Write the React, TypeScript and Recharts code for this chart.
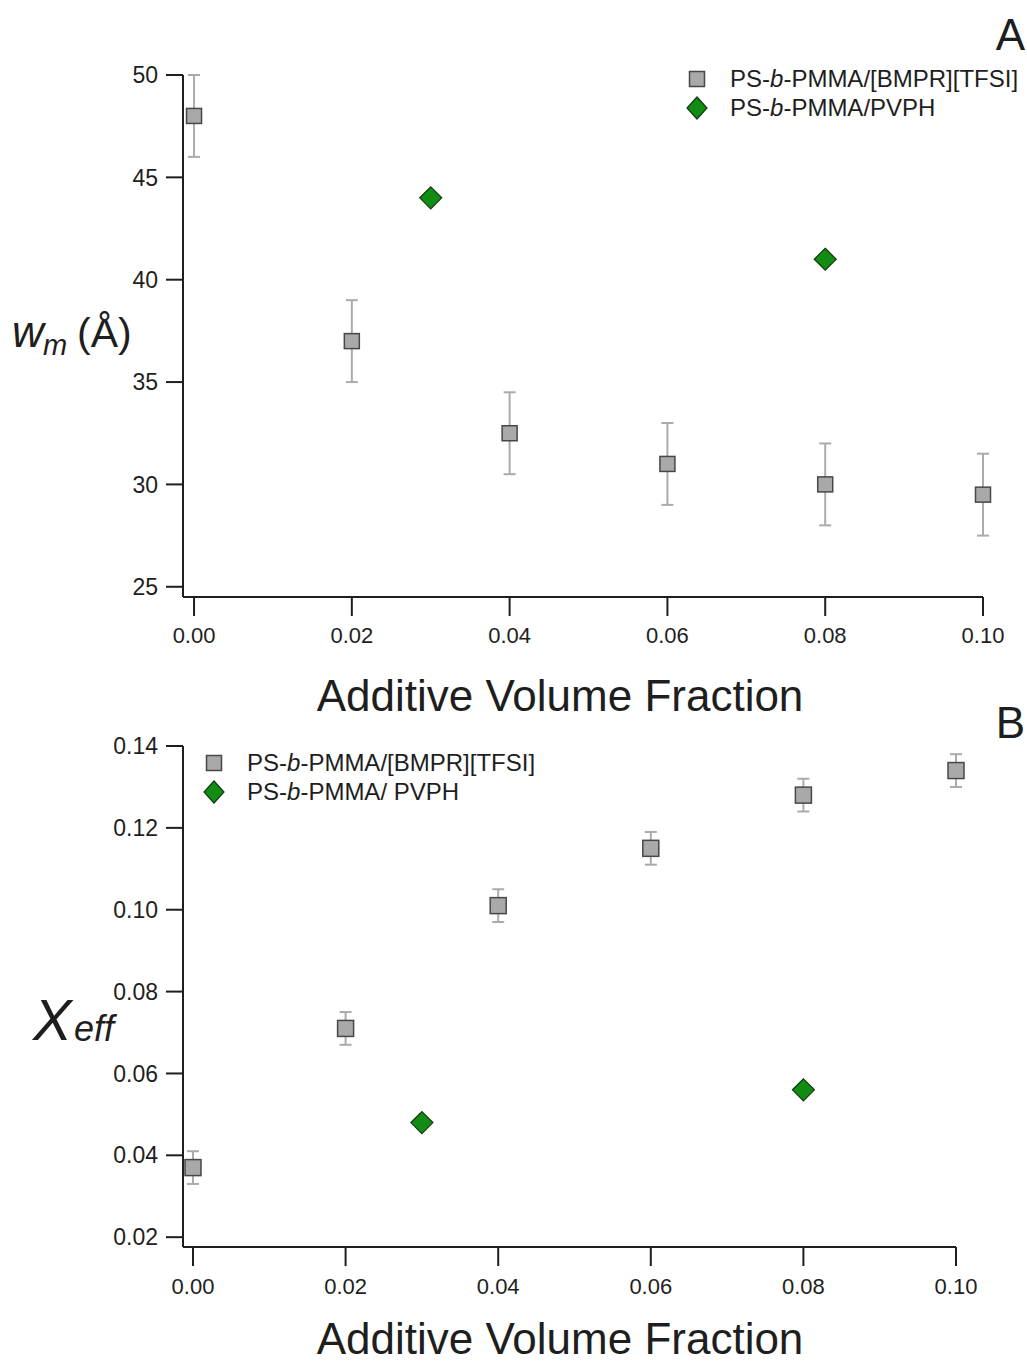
import React from "react";
import { ScatterChart, Scatter, XAxis, YAxis, ErrorBar } from "recharts";

// panel A: lamellar width w_m (Å)
const fracA = [0, 0.02, 0.04, 0.06, 0.08, 0.1];
const wmValues = [48, 37, 32.5, 31, 30, 29.5];
const wmErrors = [2, 2, 2, 2, 2, 2];
const pvphFracA = [0.03, 0.08];
const pvphWm = [44, 41];

// panel B: effective chi
const fracB = [0, 0.02, 0.04, 0.06, 0.08, 0.1];
const chiValues = [0.037, 0.071, 0.101, 0.115, 0.128, 0.134];
const chiErrors = [0.004, 0.004, 0.004, 0.004, 0.004, 0.004];
const pvphFracB = [0.03, 0.08];
const pvphChi = [0.048, 0.056];

const xTicks = [0, 0.02, 0.04, 0.06, 0.08, 0.1];
const wmTicks = [25, 30, 35, 40, 45, 50];
const chiTicks = [0.02, 0.04, 0.06, 0.08, 0.1, 0.12, 0.14];

const bmprA = fracA.map((x, i) => ({ x, y: wmValues[i], err: wmErrors[i] }));
const pvphA = pvphFracA.map((x, i) => ({ x, y: pvphWm[i] }));
const bmprB = fracB.map((x, i) => ({ x, y: chiValues[i], err: chiErrors[i] }));
const pvphB = pvphFracB.map((x, i) => ({ x, y: pvphChi[i] }));

const FONT = '"Liberation Sans", Arial, sans-serif';
const INK = "#1e1e1e";
const SQ_FILL = "#a9a9a9";
const SQ_STROKE = "#474747";
const DIA_FILL = "#128c12";
const DIA_STROKE = "#103a10";

const squareShape = (size: number) => (props: any) => {
  const { cx, cy } = props;
  return (
    <rect x={cx - size / 2} y={cy - size / 2} width={size} height={size} fill={SQ_FILL} stroke={SQ_STROKE} strokeWidth={1.5} />
  );
};

const diamondShape = (r: number) => (props: any) => {
  const { cx, cy } = props;
  return (
    <path
      d={`M${cx},${cy - r}L${cx + r},${cy}L${cx},${cy + r}L${cx - r},${cy}Z`}
      fill={DIA_FILL}
      stroke={DIA_STROKE}
      strokeWidth={1.2}
    />
  );
};

const LegendBox = ({ labels, left, top }: { labels: string[]; left: number; top: number }) => (
  <div style={{ position: "absolute", left, top, fontFamily: FONT, fontSize: 24, color: INK }}>
    {labels.map((label, i) => {
      const parts = label.split("-b-");
      return (
        <div key={label} style={{ display: "flex", alignItems: "center", height: 29 }}>
          <svg width={22} height={24} style={{ marginRight: 22 }}>
            {i === 0 ? (
              <rect x={3.5} y={4.5} width={15} height={15} fill={SQ_FILL} stroke={SQ_STROKE} strokeWidth={1.5} />
            ) : (
              <path d="M11,1L21,12L11,23L1,12Z" fill={DIA_FILL} stroke={DIA_STROKE} strokeWidth={1.2} />
            )}
          </svg>
          <span style={{ lineHeight: "29px", whiteSpace: "nowrap" }}>
            {parts[0]}-<i>b</i>-{parts[1]}
          </span>
        </div>
      );
    })}
  </div>
);

const tickX = { fontSize: 22, fill: INK, fontFamily: FONT };
const tickY = { fontSize: 23, fill: INK, fontFamily: FONT };
const axisLine = { stroke: INK, strokeWidth: 2 };
const tickLine = { stroke: INK, strokeWidth: 2 };

export default function App() {
  return (
    <div style={{ position: "absolute", left: 0, top: 0, width: 1027, height: 1365, background: "#fff", overflow: "hidden" }}>
      {/* Panel A */}
      <div style={{ position: "absolute", left: 0, top: 0 }}>
        <ScatterChart width={1027} height={720} margin={{ top: 75, right: 44, left: 0, bottom: 63 }}>
          <XAxis
            type="number"
            dataKey="x"
            domain={[-0.0014, 0.1]}
            ticks={xTicks}
            interval={0}
            tickFormatter={(v: number) => v.toFixed(2)}
            height={60}
            tick={tickX}
            tickSize={19}
            tickMargin={11}
            axisLine={axisLine}
            tickLine={tickLine}
          />
          <YAxis
            type="number"
            dataKey="y"
            domain={[24.5, 50]}
            ticks={wmTicks}
            interval={0}
            width={183}
            tick={tickY}
            tickSize={17}
            tickMargin={8}
            axisLine={axisLine}
            tickLine={tickLine}
          />
          <Scatter name="PS-b-PMMA/[BMPR][TFSI]" data={bmprA} shape={squareShape(15)} isAnimationActive={false}>
            <ErrorBar dataKey="err" direction="y" width={6} stroke="#ababab" strokeWidth={2} isAnimationActive={false} />
          </Scatter>
          <Scatter name="PS-b-PMMA/PVPH" data={pvphA} shape={diamondShape(11)} isAnimationActive={false} />
        </ScatterChart>
      </div>
      <LegendBox labels={["PS-b-PMMA/[BMPR][TFSI]", "PS-b-PMMA/PVPH"]} left={686} top={64} />

      {/* Panel B */}
      <div style={{ position: "absolute", left: 0, top: 690 }}>
        <ScatterChart width={1027} height={675} margin={{ top: 56, right: 71, left: 0, bottom: 58 }}>
          <XAxis
            type="number"
            dataKey="x"
            domain={[-0.00131, 0.1]}
            ticks={xTicks}
            interval={0}
            tickFormatter={(v: number) => v.toFixed(2)}
            height={60}
            tick={tickX}
            tickSize={19}
            tickMargin={12}
            axisLine={axisLine}
            tickLine={tickLine}
          />
          <YAxis
            type="number"
            dataKey="y"
            domain={[0.0176, 0.14]}
            ticks={chiTicks}
            interval={0}
            tickFormatter={(v: number) => v.toFixed(2)}
            width={183}
            tick={tickY}
            tickSize={17}
            tickMargin={8}
            axisLine={axisLine}
            tickLine={tickLine}
          />
          <Scatter name="PS-b-PMMA/[BMPR][TFSI]" data={bmprB} shape={squareShape(16)} isAnimationActive={false}>
            <ErrorBar dataKey="err" direction="y" width={6} stroke="#ababab" strokeWidth={2} isAnimationActive={false} />
          </Scatter>
          <Scatter name="PS-b-PMMA/ PVPH" data={pvphB} shape={diamondShape(11)} isAnimationActive={false} />
        </ScatterChart>
      </div>
      <LegendBox labels={["PS-b-PMMA/[BMPR][TFSI]", "PS-b-PMMA/ PVPH"]} left={203} top={748} />

      {/* titles and panel letters */}
      <svg width={1027} height={1365} style={{ position: "absolute", left: 0, top: 0, pointerEvents: "none" }} fontFamily={FONT} fill={INK}>
        <text x={1025} y={50} fontSize={44} textAnchor="end">A</text>
        <text x={1025} y={738} fontSize={44} textAnchor="end">B</text>
        <text x={560} y={711} fontSize={44} textAnchor="middle">Additive Volume Fraction</text>
        <text x={560} y={1354} fontSize={44} textAnchor="middle">Additive Volume Fraction</text>
        <text x={12} y={347} fontSize={44} fontStyle="italic">w</text>
        <text x={43} y={355} fontSize={29} fontStyle="italic">m</text>
        <text x={77} y={347} fontSize={41}>(Å)</text>
        <text x={33} y={1040} fontSize={58} fontStyle="italic">X</text>
        <text x={74} y={1041} fontSize={36} fontStyle="italic">eff</text>
      </svg>
    </div>
  );
}
